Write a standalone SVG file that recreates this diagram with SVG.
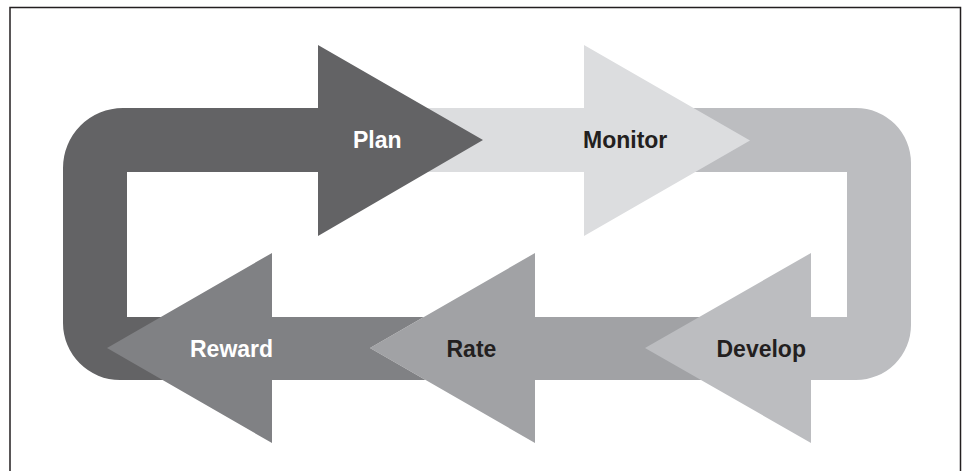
<svg xmlns="http://www.w3.org/2000/svg" width="965" height="471" viewBox="0 0 965 471">
<style>
.lbl{font-family:"Liberation Sans",Arial,sans-serif;font-weight:bold;font-size:23px}
.w{fill:#ffffff}
.k{fill:#231f20}
</style>
<rect x="0" y="0" width="965" height="471" fill="#ffffff"/>
<rect x="10" y="7.5" width="950.5" height="470" fill="none" stroke="#231f20" stroke-width="1.5"/>
<g id="rate">
<path d="M740 317 L535 317 L535 253 L370 348 L535 443 L535 380 L740 380 Z" fill="#a1a2a5"/>
<text class="lbl k" x="446.5" y="357">Rate</text>
</g>
<g id="develop">
<path d="M680 108 L856 108 A55 55 0 0 1 911 163 L911 325 A55 55 0 0 1 856 380 L811 380 L811 443 L645 348 L811 253 L811 317 L847 317 L847 172 L680 172 Z" fill="#bcbdc0"/>
<text class="lbl k" x="716.5" y="357">Develop</text>
</g>
<g id="monitor">
<path d="M400 108 L584 108 L584 45 L750 140.5 L584 236 L584 172 L400 172 Z" fill="#dcdddf"/>
<text class="lbl k" x="583" y="148">Monitor</text>
</g>
<g id="plan">
<path d="M200 380 L120 380 A57 57 0 0 1 63 323 L63 168 A60 60 0 0 1 123 108 L318 108 L318 45 L483 140 L318 236 L318 172 L127 172 L127 317 L200 317 Z" fill="#636365"/>
<text class="lbl w" x="353" y="147.5">Plan</text>
</g>
<g id="reward">
<path d="M423.8 317 L272 317 L272 253 L107 348 L272 443 L272 380 L425.6 380 L370 348 Z" fill="#808184"/>
<text class="lbl w" x="190" y="357">Reward</text>
</g>
<g id="connectors"/>
</svg>
